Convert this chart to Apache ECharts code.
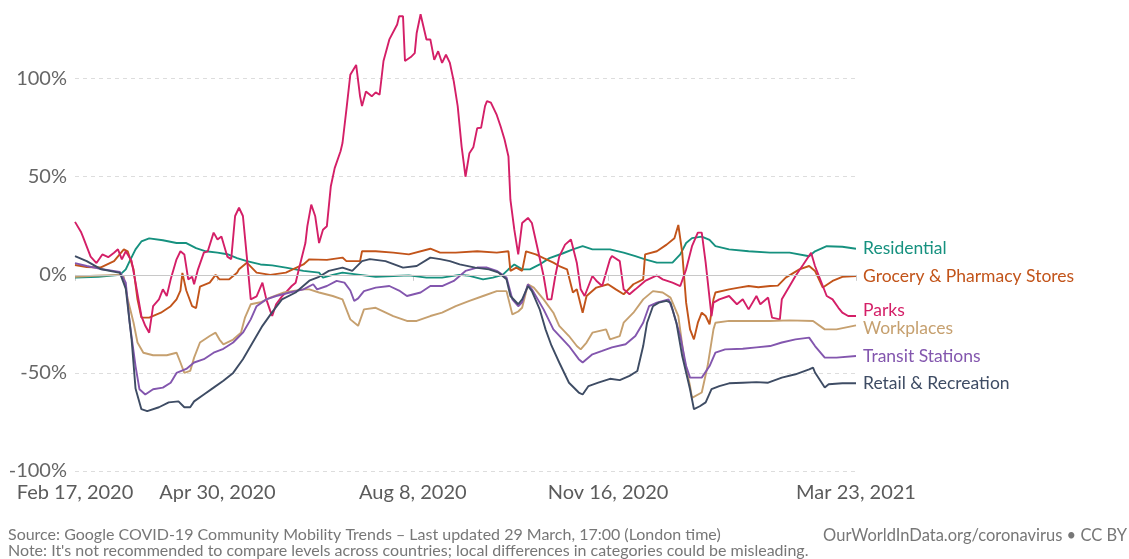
<!DOCTYPE html>
<html>
<head>
<meta charset="utf-8">
<script src="https://cdn.jsdelivr.net/npm/echarts@6/dist/echarts.min.js"></script>
<style>
html,body{margin:0;padding:0;background:#fff;}
#chart{width:1129px;height:559px;}
</style>
</head>
<body>
<div id="chart"></div>
<script>
// Day offsets are counted from Feb 17, 2020; values are % change from baseline.
const seriesNames = ['Residential', 'Grocery & Pharmacy Stores', 'Parks', 'Workplaces', 'Transit Stations', 'Retail & Recreation'];
const seriesColors = ['#16917f', '#c2541a', '#d41f67', '#c6a06f', '#8356ae', '#3e4c64'];

const residential = [[0,-1.4],[12,-1],[23,0],[26,2.8],[28,7],[31,13],[34,17],[38,18.6],[45,17.6],[52,16.2],[57,16.2],[62,13.6],[67,12],[73,11.3],[78,10.5],[83,8.5],[88,7],[95,5.3],[101,4.8],[108,3.7],[117,2],[125,1.1],[127,-1.4],[132,0],[137,1.1],[146,0],[154,-1],[163,-0.6],[171,-0.3],[180,-1.4],[188,-1.4],[197,0],[202,-0.5],[209,-2.3],[214,-1.4],[219,0],[222,2.8],[225,5.3],[229,2.8],[233,2.8],[238,5.3],[243,8.5],[250,11],[255,13],[260,14.6],[265,13],[274,13],[281,11.3],[287,9.5],[292,7.9],[298,6.2],[306,6.2],[310,10.4],[313,16.2],[316,18.7],[321,19.5],[325,17.8],[328,14.6],[335,13],[345,12],[356,11.3],[366,11.3],[376,9.5],[379,12],[385,14.6],[393,14.3],[400,13.3]];

const grocery = [[0,5],[6,4],[13,3.7],[20,7],[25,13],[27,12],[30,2.8],[32,-12.5],[34,-21.8],[38,-21.8],[44,-19.3],[49,-16],[52,-12.5],[54,-8],[55,1],[57,-8],[60,-16],[62,-17],[64,-6],[69,-4],[72,0],[74,-2.3],[79,-2.3],[83,1.1],[84,2.8],[88,6.2],[93,1.1],[100,0],[108,1.1],[117,5.3],[120,7.9],[129,7.6],[137,8.8],[139,7],[146,7],[147,12],[154,12],[163,11.3],[171,10.4],[182,13.3],[187,11.3],[195,11.3],[206,12],[216,11.3],[222,12],[223,2],[226,3.7],[229,2],[231,12],[236,10.4],[240,8.5],[245,6.2],[248,4.5],[252,2.8],[255,-9],[257,-7.4],[260,-19.3],[262,-10.8],[267,-6.5],[273,-4.8],[277,-7.4],[281,-9.9],[286,-4.8],[291,-2.3],[292,10.4],[298,12],[303,15.4],[307,18.7],[309,25.4],[311,11.3],[313,-14.2],[315,-27.8],[317,-32.9],[319,-24.4],[321,-19.3],[323,-21],[325,-25.2],[327,-12.5],[328,-9],[335,-7.4],[340,-6.5],[345,-5.7],[350,-6.3],[356,-5.7],[360,-5.5],[364,-1.4],[371,2.8],[376,4.5],[379,2],[383,-6.5],[388,-3.1],[393,-1],[400,-0.6]];

const parks = [[0,27],[3,22],[4,19.6],[8,9.3],[11,6],[14,10.4],[17,9],[20,11.3],[22,13],[24,7.9],[26,12],[29,7],[31,-4],[34,-21],[36,-26],[38,-29.5],[40,-16],[43,-12.5],[45,-7.4],[47,-10.8],[49,-2.3],[52,7.9],[54,12],[56,10.4],[58,-2.3],[60,-1],[61,-4.8],[63,2.8],[66,11.3],[68,12],[71,21.5],[73,18],[75,19.5],[78,9.3],[80,8],[82,30],[84,34.2],[86,30],[88,9.3],[90,-12.5],[93,-11],[96,-4],[98,-12.5],[100,-18.4],[101,-21],[103,-15],[106,-11],[108,-9],[111,-5.7],[113,-4],[115,4.3],[118,16.2],[119,24.8],[121,35.8],[123,30],[125,16.2],[127,23],[129,24.8],[131,45],[133,54.4],[136,63],[137,67.2],[139,84.2],[141,102],[142,103],[144,107],[146,91],[147,86],[149,93.5],[152,91],[154,93],[156,91.8],[158,109],[161,120],[165,127.6],[166,131.8],[168,131.8],[169,109],[172,111],[174,113],[175,123.3],[177,132.8],[178,128.5],[180,120],[182,120],[184,109.6],[186,114],[188,108],[190,112.2],[192,108],[194,98.6],[196,86],[198,65.5],[200,50],[202,62],[204,65],[206,74.8],[208,75],[210,86],[211,88.6],[213,87.8],[216,81.5],[218,75.6],[220,69],[222,60.3],[223,38.3],[225,23],[227,10.4],[229,26.4],[232,29],[234,26.4],[237,13],[240,-0.6],[242,-12.5],[244,-12.5],[246,-0.6],[248,9.3],[251,15.4],[254,18],[257,6.2],[259,-7.4],[261,-10.8],[263,-5.7],[265,-0.6],[267,-3],[270,-5.7],[274,7.9],[275,9.6],[279,7],[281,-7.4],[284,-9.9],[287,-7.4],[292,-3.1],[298,-0.3],[301,-2.3],[306,-4],[310,-5.7],[313,2.8],[316,14.6],[319,21.5],[321,21.5],[323,6.2],[326,-21],[327,-14.2],[330,-12.5],[335,-10.8],[339,-15],[342,-12.5],[345,-17.6],[349,-10.8],[351,-15],[355,-11.6],[357,-21.8],[361,-22.7],[362,-12.5],[366,-5.7],[369,-0.6],[373,5.3],[377,11.3],[379,4.5],[383,-5.7],[385,-10.8],[388,-12.5],[391,-16.8],[393,-19.3],[396,-21],[400,-21]];

const workplaces = [[0,-1],[10,-0.5],[23,0],[25,-1],[27,-12.5],[30,-24.4],[32,-34.5],[35,-39.7],[40,-41],[47,-41],[52,-39.7],[54,-44.7],[56,-50],[59,-49],[61,-42.2],[64,-34.5],[69,-31.2],[72,-29.5],[74,-33],[76,-35.4],[81,-33],[85,-29.5],[87,-22],[90,-15],[95,-14],[100,-11.6],[107,-9],[117,-7.4],[120,-7.4],[125,-9],[132,-10.8],[137,-12.5],[141,-22.7],[145,-26],[148,-17.6],[154,-16.8],[163,-21],[170,-23.5],[175,-23.5],[182,-21],[188,-19.3],[195,-16],[202,-13.3],[209,-10.8],[216,-8.3],[221,-8.3],[224,-20.2],[227,-18.7],[229,-16.8],[232,-4.8],[235,-6.5],[240,-12.5],[245,-19.3],[248,-26],[253,-31.2],[257,-36.3],[259,-38],[262,-34.5],[265,-29.5],[272,-27.8],[274,-32.9],[279,-31.2],[281,-24.4],[286,-19.3],[291,-12.5],[296,-8.3],[301,-9],[305,-11.6],[309,-21],[312,-43],[315,-56.7],[316,-62.7],[321,-60],[324,-46.5],[327,-27.8],[328,-24.4],[335,-23.5],[345,-23.5],[356,-23.5],[366,-23.2],[378,-23.5],[384,-27.8],[390,-27.8],[400,-25.8]];

const transit = [[0,6],[6,4.5],[13,3],[23,1.5],[26,-4],[28,-24.4],[31,-46.5],[33,-58.3],[36,-61],[40,-58.3],[45,-57.5],[49,-55],[52,-50],[57,-48],[61,-44.7],[66,-43],[71,-39.7],[76,-37.7],[81,-34.5],[86,-29.5],[90,-22.7],[93,-16],[98,-12.5],[103,-10.8],[110,-9],[117,-7.4],[122,-4.8],[124,-7.4],[129,-5.7],[134,-3.1],[138,-4],[141,-8],[143,-13.3],[145,-12],[148,-8.3],[154,-6.5],[161,-5.7],[166,-8],[170,-10.8],[177,-9],[182,-5.7],[188,-5.7],[194,-3.1],[200,2],[206,3.7],[211,3.7],[216,2],[221,-1.4],[224,-12.5],[227,-16],[229,-14],[232,-4.8],[234,-7.4],[240,-17.6],[245,-27.8],[248,-31],[253,-36.3],[258,-43],[260,-44.7],[265,-40.5],[270,-38.8],[275,-37],[282,-35.4],[287,-31.2],[291,-24.4],[294,-16],[298,-14.2],[304,-12.5],[306,-17.6],[310,-31.2],[313,-46.5],[315,-52.4],[321,-52.4],[325,-46.5],[328,-39.7],[333,-38],[342,-37.7],[349,-37],[356,-36.3],[362,-34.5],[369,-32.9],[376,-32],[379,-36.3],[384,-42.2],[390,-42.2],[400,-41.4]];

const retail = [[0,9.5],[6,7],[13,3],[23,1],[26,-7],[29,-33],[31,-58],[34,-68.5],[37,-69.5],[43,-67.5],[48,-65],[53,-64.5],[56,-67.5],[59,-67.5],[61,-64.5],[66,-61],[71,-57.5],[76,-54],[81,-50],[86,-43],[91,-34.5],[96,-26],[101,-19],[106,-12.5],[113,-9],[120,-3],[125,-1],[130,2],[137,3.7],[142,2],[147,7],[151,8],[159,7],[168,3.7],[175,4.5],[182,8.8],[187,8],[192,7],[197,5.3],[205,3.7],[212,2.8],[217,1.1],[221,-2.3],[223,-10.8],[227,-15],[229,-12.5],[232,-5.7],[234,-8.3],[238,-17.6],[241,-27.8],[244,-36],[248,-44.7],[253,-55],[258,-60],[260,-61],[263,-56.7],[268,-55],[274,-53],[279,-53.7],[284,-51.5],[288,-49],[291,-36.3],[293,-24.4],[296,-16],[299,-14.2],[303,-13.3],[305,-14.2],[308,-24.4],[311,-41.4],[315,-58.3],[317,-68.5],[320,-67],[323,-65],[326,-58.3],[330,-56.7],[335,-55.3],[342,-55],[349,-54.7],[355,-55],[362,-52.4],[369,-50.7],[376,-48.2],[378,-47.3],[379,-49.8],[384,-57.4],[386,-55.8],[393,-55.3],[400,-55.3]];

const xTickDays = [0, 73, 173, 273, 400];
const yTicks = [-100, -50, 0, 50, 100];

const seriesData = [residential, grocery, parks, workplaces, transit, retail];
const monthNames = ['Jan','Feb','Mar','Apr','May','Jun','Jul','Aug','Sep','Oct','Nov','Dec'];
function fmtDay(n) {
  const d = new Date(2020, 1, 17 + Math.round(n));
  return monthNames[d.getMonth()] + ' ' + d.getDate() + ', ' + d.getFullYear();
}

const FONT = 'Lato, "Noto Sans", sans-serif';
const labelOffsets = { 'Parks': [0, -6], 'Workplaces': [0, 3] };
const chart = echarts.init(document.getElementById('chart'));

const series = seriesData.map((pts, i) => ({
  name: seriesNames[i],
  type: 'line',
  data: pts,
  showSymbol: false,
  symbol: 'none',
  lineStyle: { color: seriesColors[i], width: 1.9 },
  itemStyle: { color: seriesColors[i] },
  z: 3,
  endLabel: {
    show: true,
    formatter: '{a}',
    color: seriesColors[i],
    fontFamily: FONT,
    fontSize: 17.5,
    distance: 7,
    offset: labelOffsets[seriesNames[i]] || [0, 0]
  },
  labelLayout: { moveOverlap: 'shiftY' },
  emphasis: { disabled: true }
}));

series.unshift({
  type: 'line',
  data: [],
  z: 1,
  silent: true,
  markLine: {
    silent: true,
    symbol: ['none', 'none'],
    label: { show: false },
    lineStyle: { color: '#c8c8c8', type: 'solid', width: 1 },
    data: [{ yAxis: 0 }]
  }
});

chart.setOption({
  animation: false,
  backgroundColor: '#fff',
  grid: { left: 75, right: 273, top: 10, bottom: 88, containLabel: false },
  xAxis: {
    type: 'value',
    min: 0,
    max: 400,
    axisLine: { show: false },
    axisTick: { show: true, customValues: xTickDays, length: 6, lineStyle: { color: '#cccccc' } },
    splitLine: { show: false },
    axisLabel: {
      customValues: xTickDays,
      formatter: v => fmtDay(v),
      fontFamily: FONT,
      fontSize: 20,
      color: '#5b5b5b',
      margin: 12,
      hideOverlap: false
    }
  },
  yAxis: {
    type: 'value',
    min: -100,
    max: 135,
    interval: 50,
    axisLine: { show: false },
    axisTick: { show: false },
    splitLine: { show: true, showMaxLine: false, lineStyle: { color: '#dddddd', type: [4, 4], width: 1 } },
    axisLabel: {
      showMaxLabel: false,
      formatter: v => (yTicks.indexOf(v) >= 0 ? v + '%' : ''),
      fontFamily: FONT,
      fontSize: 20,
      color: '#666666',
      margin: 8
    }
  },
  graphic: [
    { type: 'text', left: 8, top: 527, style: { text: 'Source: Google COVID-19 Community Mobility Trends – Last updated 29 March, 17:00 (London time)', font: '16px ' + FONT, fill: '#777777' } },
    { type: 'text', right: 2, top: 527, style: { text: 'OurWorldInData.org/coronavirus • CC BY', font: '16.5px ' + FONT, fill: '#777777' } },
    { type: 'text', left: 8, top: 543, style: { text: "Note: It's not recommended to compare levels across countries; local differences in categories could be misleading.", font: '16px ' + FONT, fill: '#777777' } }
  ],
  series: series
});
</script>
</body>
</html>
